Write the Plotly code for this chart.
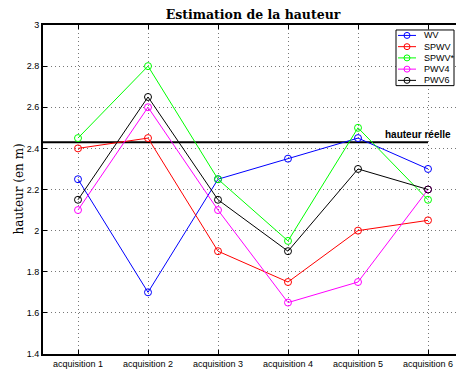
import plotly.graph_objects as go

categories = ["acquisition 1", "acquisition 2", "acquisition 3",
              "acquisition 4", "acquisition 5", "acquisition 6"]
wv = [2.25, 1.70, 2.25, 2.35, 2.45, 2.30]
spwv = [2.40, 2.45, 1.90, 1.75, 2.00, 2.05]
spwv_star = [2.45, 2.80, 2.25, 1.95, 2.50, 2.15]
pwv4 = [2.10, 2.60, 2.10, 1.65, 1.75, 2.20]
pwv6 = [2.15, 2.65, 2.15, 1.90, 2.30, 2.20]
hauteur_reelle = 2.43

series = [("WV", wv, "blue"), ("SPWV", spwv, "red"), ("SPWV*", spwv_star, "#00ff00"),
          ("PWV4", pwv4, "magenta"), ("PWV6", pwv6, "black")]

x = list(range(1, len(categories) + 1))

W, H = 456, 369
L, T, B = 43, 25, 13
pw, ph = W - L, H - T - B


def px(fx):
    return (fx - L) / pw


def py(fy):
    return (H - B - fy) / ph


fig = go.Figure()
fig.add_trace(go.Scatter(x=[x[0] - 0.5, x[-1]], y=[hauteur_reelle] * 2, mode="lines",
                         line=dict(color="black", width=2), showlegend=False, hoverinfo="skip"))
for name, vals, color in series:
    fig.add_trace(go.Scatter(x=x, y=vals, name=name, mode="lines+markers", showlegend=False,
                             line=dict(color=color, width=1),
                             marker=dict(symbol="circle-open", size=7, color=color, line=dict(width=1))))

fig.add_annotation(xref="paper", x=px(383), y=hauteur_reelle, yshift=8, text="<b>hauteur réelle</b>",
                   showarrow=False, xanchor="left", yanchor="middle",
                   font=dict(family="Liberation Sans", size=10, color="black"))

# compact legend box
fig.add_shape(type="rect", xref="paper", yref="paper", x0=px(396), x1=px(454), y0=py(30), y1=py(86),
              line=dict(color="black", width=1), fillcolor="white", layer="above")
for i, (name, vals, color) in enumerate(series):
    fy = 35.5 + i * 11.3
    fig.add_shape(type="line", xref="paper", yref="paper", x0=px(398), x1=px(416), y0=py(fy), y1=py(fy),
                  line=dict(color=color, width=1), layer="above")
    fig.add_shape(type="circle", xref="paper", yref="paper", xsizemode="pixel", ysizemode="pixel",
                  xanchor=px(407), yanchor=py(fy), x0=-3, x1=3, y0=-3, y1=3,
                  line=dict(color=color, width=1), layer="above")
    fig.add_annotation(xref="paper", yref="paper", x=px(422), y=py(fy), text=name, showarrow=False,
                       xanchor="left", yanchor="middle",
                       font=dict(family="Liberation Sans", size=9, color="black"))

fig.add_annotation(xref="paper", yref="paper", x=px(18), y=0.5, text="hauteur (en m)", textangle=-90,
                   showarrow=False, xanchor="center", yanchor="middle",
                   font=dict(family="DejaVu Serif", size=12, color="black"))

fig.update_layout(
    width=W, height=H,
    margin=dict(l=L, r=0, t=T, b=B),
    plot_bgcolor="white", paper_bgcolor="white",
    showlegend=False,
    title=dict(text="<b>Estimation de la hauteur</b>", x=253 / W, xanchor="center",
               y=1 - 10 / H, yanchor="top",
               font=dict(family="DejaVu Serif", size=12.5, color="black")),
    font=dict(family="Liberation Sans", size=9, color="black"),
)
fig.update_xaxes(range=[0.5, 6.4], tickvals=x, ticktext=categories, showgrid=True,
                 gridcolor="#777", griddash="1px,3px", gridwidth=1, zeroline=False,
                 showline=True, linecolor="black", linewidth=2, mirror="ticks",
                 ticks="inside", ticklen=4, tickcolor="black")
fig.update_yaxes(range=[1.4, 3.0], dtick=0.2, showgrid=True, gridcolor="#777", griddash="1px,3px",
                 gridwidth=1, zeroline=False, showline=True, linecolor="black", linewidth=2,
                 ticks="inside", ticklen=4, tickcolor="black")

# drop the default body margin so the figure fills the window
fig.write_html("out.html", config={"displayModeBar": False},
               post_script="document.body.style.margin='0';document.body.style.overflow='hidden';")
